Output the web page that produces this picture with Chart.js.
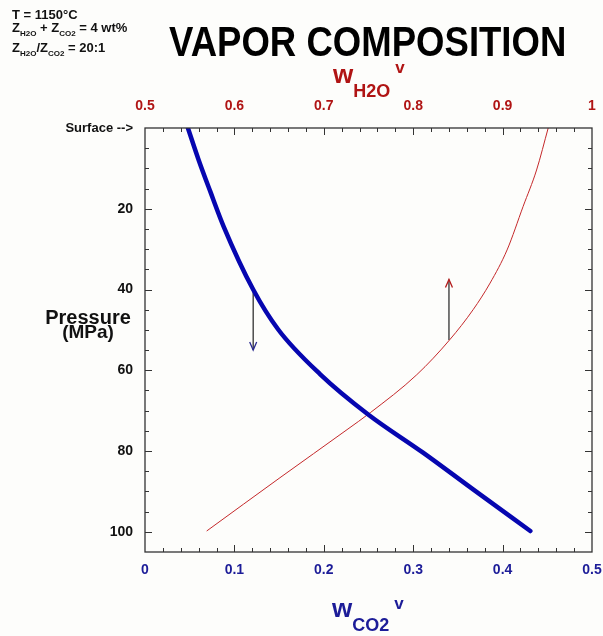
<!DOCTYPE html>
<html>
<head>
<meta charset="utf-8">
<title>Vapor composition</title>
<script src="https://cdn.jsdelivr.net/npm/chart.js@4.4.1/dist/chart.umd.min.js"></script>
<style>
html, body { margin: 0; padding: 0; background: #fdfdfb; }
#wrap { position: relative; width: 603px; height: 636px; overflow: hidden;
        font-family: "Liberation Sans", Arial, sans-serif; font-weight: bold; }
#chart { position: absolute; left: 0; top: 0; }
.t { position: absolute; white-space: nowrap; line-height: 1; }
.note { font-size: 13px; color: #111; left: 12px; }
.note .sb { font-size: 8px; position: relative; top: 4px; }
#title { font-size: 43px; color: #000; left: 169px; top: 19.6px; transform: scaleX(.85); transform-origin: left top; }
.axt { font-size: 26px; }
.axt .sb { font-size: 18px; position: relative; top: 14px; }
.axt .sp { font-size: 17px; position: relative; margin-left: 5px; }
#topTitle { color: #b01414; left: 333px; top: 61px; }
#topTitle .sp { top: -10px; }
#botTitle { color: #1c1c98; left: 332px; top: 595px; }
#botTitle .sp { top: -8px; }
.ylab { color: #111; width: 120px; left: 28px; text-align: center; }
</style>
</head>
<body>
<div id="wrap">
  <canvas id="chart" width="603" height="636"></canvas>
  <div class="t note" style="top:8px">T = 1150°C</div>
  <div class="t note" style="top:21px">Z<span class="sb">H2O</span> + Z<span class="sb">CO2</span> = 4 wt%</div>
  <div class="t note" style="top:41px">Z<span class="sb">H2O</span>/Z<span class="sb">CO2</span> = 20:1</div>
  <div class="t" id="title">VAPOR COMPOSITION</div>
  <div class="t axt" id="topTitle">w<span class="sb">H2O</span><span class="sp">v</span></div>
  <div class="t axt" id="botTitle">w<span class="sb">CO2</span><span class="sp">v</span></div>
  <div class="t ylab" style="top:307px; font-size:20px">Pressure</div>
  <div class="t ylab" style="top:322px; font-size:19px">(MPa)</div>
</div>
<script>
// ── Datos ─────────────────────────────────────────────────────
const co2Ticks      = [0, 0.1, 0.2, 0.3, 0.4, 0.5];
const h2oTicks      = [0.5, 0.6, 0.7, 0.8, 0.9, 1];
const pressureTicks = [0, 20, 40, 60, 80, 100];

// w_CO2 (eje inferior) frente a presión (MPa)
const co2W = [0.048, 0.060, 0.073, 0.088, 0.121, 0.149, 0.196, 0.250, 0.311, 0.367, 0.431];
const co2P = [0,     7.9,   15.7,  24.4,  40,    49.9,  61,    71,    80.4,  89.5,  99.8];

// w_H2O (eje superior) frente a presión (MPa)
const h2oW = [0.569, 0.651, 0.726, 0.752, 0.804, 0.841, 0.867, 0.886, 0.905, 0.923, 0.938, 0.951];
const h2oP = [99.8,  86.6,  74.7,  70.5,  61.1,  52.4,  45,    38.4,  30.2,  19.4,  10.4,  0];

// flechas (posición en w_CO2, presión inicial y final)
const arrowW    = [0.121, 0.340];
const arrowFrom = [40, 52.5];
const arrowTo   = [55, 37.5];

// ── Colores ───────────────────────────────────────────────────
const AZUL = '#0606b0', ROJO = '#c4282a';
const AZUL_TXT = '#1c1c98', ROJO_TXT = '#b01414';

const pares = (xs, ys) => xs.map((x, i) => ({ x, y: ys[i] }));
const fijarTicks = arr => scale => { scale.ticks = arr.map(v => ({ value: v })); };
const fmt = v => String(+v.toFixed(2));
// alto fijo del eje x sin el relleno extra por etiquetas que sobresalen
const fijarAlto = h => s => { s.height = h; s.paddingLeft = 0; s.paddingRight = 0; };

// ── Marco y marcas hacia dentro + puntas de flecha ────────────
const marcoPlugin = {
    id: 'marco',
    afterDatasetsDraw(chart) {
        const { ctx, chartArea: a, scales } = chart;
        ctx.save();
        ctx.strokeStyle = '#333';
        ctx.lineWidth = 1.3;
        ctx.strokeRect(a.left, a.top, a.right - a.left, a.bottom - a.top);

        ctx.lineWidth = 1;
        ctx.beginPath();
        for (let i = 1; i < 25; i++) {
            const px = Math.round(scales.x.getPixelForValue(i * 0.02)) + 0.5;
            const len = i % 5 === 0 ? 7 : 4;
            ctx.moveTo(px, a.bottom); ctx.lineTo(px, a.bottom - len);
            ctx.moveTo(px, a.top);    ctx.lineTo(px, a.top + len);
        }
        for (let p = 5; p < 105; p += 5) {
            const py = Math.round(scales.y.getPixelForValue(p)) + 0.5;
            const len = p % 20 === 0 ? 7 : 4;
            ctx.moveTo(a.left, py);  ctx.lineTo(a.left + len, py);
            ctx.moveTo(a.right, py); ctx.lineTo(a.right - len, py);
        }
        ctx.stroke();

        // puntas de flecha abiertas
        const colores = ['#2a2a90', '#b41c1c'];
        arrowW.forEach((w, i) => {
            const px = scales.x.getPixelForValue(w);
            const py = scales.y.getPixelForValue(arrowTo[i]);
            const dir = arrowTo[i] > arrowFrom[i] ? -1 : 1;
            ctx.strokeStyle = colores[i];
            ctx.lineWidth = 1.3;
            ctx.beginPath();
            ctx.moveTo(px - 3.5, py + dir * 8);
            ctx.lineTo(px, py);
            ctx.lineTo(px + 3.5, py + dir * 8);
            ctx.stroke();
        });
        ctx.restore();
    },
};

const flechas = arrowW.map((w, i) => ({
    data: [{ x: w, y: arrowFrom[i] }, { x: w, y: arrowTo[i] }],
    xAxisID: 'x',
    borderColor: '#222',
    borderWidth: 1.2,
    pointRadius: 0,
    showLine: true,
}));

const fuenteTick = { family: 'Liberation Sans', size: 14, weight: 'bold' };

new Chart(document.getElementById('chart'), {
    type: 'scatter',
    data: {
        datasets: [
            {
                label: 'w CO2',
                data: pares(co2W, co2P),
                xAxisID: 'x',
                borderColor: AZUL,
                borderWidth: 4.5,
                borderCapStyle: 'round',
                borderJoinStyle: 'round',
                pointRadius: 0,
                showLine: true,
                cubicInterpolationMode: 'monotone',
            },
            {
                label: 'w H2O',
                data: pares(h2oW, h2oP),
                xAxisID: 'x2',
                borderColor: ROJO,
                borderWidth: 1,
                pointRadius: 0,
                showLine: true,
                cubicInterpolationMode: 'monotone',
            },
            ...flechas,
        ],
    },
    options: {
        responsive: false,
        animation: false,
        events: [],
        layout: { padding: { left: 0, right: 11, top: 0, bottom: 0 } },
        plugins: { legend: { display: false }, tooltip: { enabled: false } },
        scales: {
            x: {
                type: 'linear', position: 'bottom', min: 0, max: 0.5,
                afterBuildTicks: fijarTicks(co2Ticks),
                afterFit: fijarAlto(84),
                grid: { display: false, drawTicks: false },
                border: { display: false },
                ticks: { color: AZUL_TXT, padding: 10, maxRotation: 0, callback: fmt, font: fuenteTick },
            },
            x2: {
                type: 'linear', position: 'top', min: 0.5, max: 1,
                afterBuildTicks: fijarTicks(h2oTicks),
                afterFit: fijarAlto(128),
                grid: { display: false, drawTicks: false },
                border: { display: false },
                ticks: { color: ROJO_TXT, padding: 13, maxRotation: 0, callback: fmt, font: fuenteTick },
            },
            y: {
                type: 'linear', reverse: true, min: 0, max: 105,
                afterBuildTicks: fijarTicks(pressureTicks),
                afterFit: s => { s.width = 145; s.paddingTop = 0; s.paddingBottom = 0; },
                grid: { display: false, drawTicks: false },
                border: { display: false },
                ticks: {
                    color: '#111', padding: 12,
                    callback: v => (v === 0 ? 'Surface -->' : v),
                    font: c => ({ ...fuenteTick, size: c.tick && c.tick.value === 0 ? 13 : 14 }),
                },
            },
        },
    },
    plugins: [marcoPlugin],
});
</script>
</body>
</html>
